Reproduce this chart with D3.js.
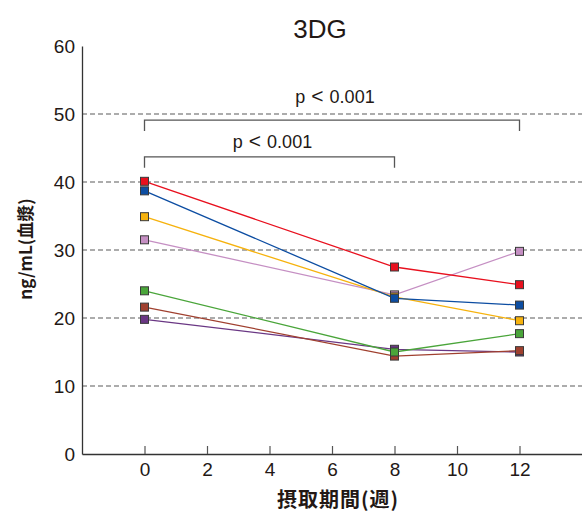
<!DOCTYPE html>
<html>
<head>
<meta charset="utf-8">
<script src="https://cdn.jsdelivr.net/npm/d3@7"></script>
<style>
  body { margin: 0; background: #fff; }
  text { font-family: "Liberation Sans", Arial, sans-serif; fill: #231815; }
  .jp { font-family: "Noto Sans CJK JP", "Liberation Sans", sans-serif; }
</style>
</head>
<body>
<svg id="chart" width="582" height="513"></svg>
<script>
// Weeks of intake
const weeks = [0, 8, 12];
const xTicks = [0, 2, 4, 6, 8, 10, 12];
const yTicks = [0, 10, 20, 30, 40, 50, 60];
const gridValues = [10, 20, 30, 40, 50];

// Plasma 3DG per subject (ng/mL)
const subjectPink   = [31.5, 23.4, 29.8];
const subjectYellow = [34.9, 23.1, 19.6];
const subjectRed    = [40.1, 27.5, 24.9];
const subjectBlue   = [38.7, 22.9, 21.9];
const subjectPurple = [19.8, 15.4, 15.0];
const subjectBrown  = [21.6, 14.4, 15.2];
const subjectGreen  = [24.0, 15.0, 17.7];

const seriesColors = ["#c58fc3", "#f6b20d", "#e8101e", "#0c4da2", "#6a3784", "#a0402f", "#4aa53a"];
const seriesValues = [subjectPink, subjectYellow, subjectRed, subjectBlue, subjectPurple, subjectBrown, subjectGreen];

// Significance brackets (bar level and label level in data units)
const brackets = [
  { from: 0, to: 12, level: 49.1, labelLevel: 51.6, p: "0.001" },
  { from: 0, to: 8,  level: 43.7, labelLevel: 45.0, p: "0.001" }
];

const svg = d3.select("#chart");
const x = d3.scaleLinear().domain([-2, 14]).range([82, 582]);
const y = d3.scaleLinear().domain([0, 60]).range([454, 46]);

// Title
svg.append("text").attr("x", 320).attr("y", 38).attr("text-anchor", "middle")
  .attr("font-size", 26).text("3DG");

// Dashed gridlines
svg.append("g").selectAll("line").data(gridValues).join("line")
  .attr("x1", x(-2)).attr("x2", x(14))
  .attr("y1", d => y(d)).attr("y2", d => y(d))
  .attr("stroke", "#5a5a5a").attr("stroke-width", 1.2)
  .attr("stroke-dasharray", "5,3");

// Y axis (labels only, no ticks)
const yAxis = svg.append("g").attr("transform", `translate(${x(-2)},0)`)
  .call(d3.axisLeft(y).tickValues(yTicks).tickSize(0).tickPadding(7));
yAxis.select(".domain").attr("stroke", "#333").attr("stroke-width", 1.3);
yAxis.selectAll("text").attr("font-size", 19).attr("font-family", "Liberation Sans, Arial, sans-serif")
  .attr("fill", "#231815").attr("dy", "0.36em");

// X axis with inward ticks
const xAxis = svg.append("g").attr("transform", `translate(0,${y(0)})`)
  .call(d3.axisBottom(x).tickValues(xTicks).tickSizeInner(-8).tickSizeOuter(0).tickPadding(9));
xAxis.select(".domain").attr("stroke", "#333").attr("stroke-width", 1.3);
xAxis.selectAll(".tick line").attr("stroke", "#555").attr("stroke-width", 1.2);
xAxis.selectAll("text").attr("font-size", 19).attr("font-family", "Liberation Sans, Arial, sans-serif")
  .attr("fill", "#231815");

// Axis titles
svg.append("text").attr("class", "jp").attr("x", 338).attr("y", 507)
  .attr("text-anchor", "middle").attr("font-size", 20).attr("font-weight", "bold")
  .attr("letter-spacing", 1).text("摂取期間(週)");
svg.append("text").attr("class", "jp")
  .attr("transform", "translate(32,249) rotate(-90)")
  .attr("text-anchor", "middle").attr("font-size", 17).attr("font-weight", "bold").text("ng/mL(血漿)");

// Brackets with p-value labels
brackets.forEach(b => {
  const g = svg.append("g");
  const yy = y(b.level);
  g.append("path")
    .attr("d", `M${x(b.from)},${yy + 11}V${yy}H${x(b.to)}V${yy + 11}`)
    .attr("fill", "none").attr("stroke", "#555").attr("stroke-width", 1.3);
  const t = g.append("text").attr("x", (x(b.from) + x(b.to)) / 2 + 3).attr("y", y(b.labelLevel))
    .attr("text-anchor", "middle").attr("font-size", 18);
  t.append("tspan").text("p");
  t.append("tspan").attr("dx", 6).attr("font-size", 21).text("<");
  t.append("tspan").attr("dx", 6).text(b.p);
});

// Subject lines and markers
const line = d3.line().x((d, i) => x(weeks[i])).y(d => y(d));
const groups = svg.append("g").selectAll("g").data(seriesValues).join("g");
groups.append("path").attr("d", d => line(d))
  .attr("fill", "none").attr("stroke", (d, i) => seriesColors[i]).attr("stroke-width", 1.3);
groups.each(function (vals, i) {
  d3.select(this).selectAll("rect").data(vals).join("rect")
    .attr("x", (d, j) => x(weeks[j]) - 4).attr("y", d => y(d) - 4)
    .attr("width", 8).attr("height", 8)
    .attr("fill", seriesColors[i]).attr("stroke", "#3a3a3a").attr("stroke-width", 1);
});
</script>
</body>
</html>
